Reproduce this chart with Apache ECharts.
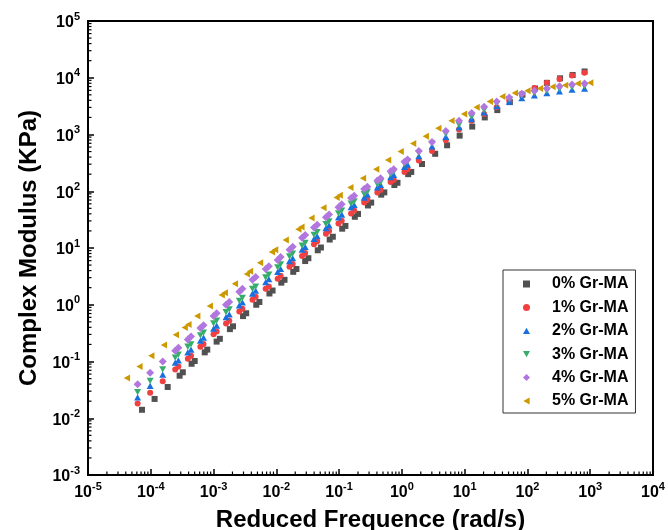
<!DOCTYPE html>
<html>
<head>
<meta charset="utf-8">
<script src="https://cdn.jsdelivr.net/npm/echarts@6/dist/echarts.min.js"></script>
<style>
  html, body { margin: 0; padding: 0; background: #ffffff; }
  #chart { width: 668px; height: 530px; }
</style>
</head>
<body>
<div id="chart"></div>
<script>
// Complex modulus master curves (KPa) vs reduced frequency (rad/s)
const seriesNames = ['0% Gr-MA', '1% Gr-MA', '2% Gr-MA', '3% Gr-MA', '4% Gr-MA', '5% Gr-MA'];

// 0% Gr-MA
const freq0 = [7.24e-5, 1.15e-4, 1.86e-4, 2.88e-4, 3.24e-4, 4.47e-4, 5.01e-4, 7.24e-4, 7.94e-4,
  1.12e-3, 1.26e-3, 1.82e-3, 2.04e-3, 2.95e-3, 3.31e-3, 4.79e-3, 5.37e-3, 7.76e-3, 8.71e-3,
  0.012, 0.0135, 0.0186, 0.0209, 0.0288, 0.0324, 0.0457, 0.0513, 0.0708, 0.0794,
  0.112, 0.126, 0.178, 0.2, 0.288, 0.324, 0.468, 0.525, 0.759, 0.851,
  1.26, 1.41, 2.09, 3.39, 5.25, 8.32, 13.2, 20.9, 33.1, 52.5, 83.2, 132, 204, 331, 525, 813];
const mod0 = [0.0141, 0.0219, 0.0355, 0.0562, 0.0646, 0.0912, 0.102, 0.145, 0.162,
  0.224, 0.251, 0.372, 0.417, 0.631, 0.708, 1.0, 1.12, 1.58, 1.78,
  2.45, 2.75, 3.8, 4.27, 5.89, 6.61, 9.12, 10.2, 14.1, 15.8,
  21.9, 24.5, 35.5, 39.8, 56.2, 63.1, 87.1, 95.5, 129, 141,
  200, 219, 302, 457, 646, 955, 1380, 2000, 2690, 3720, 5010, 6460, 8130, 9770, 11200, 12900];

// 1% to 4% Gr-MA share the same reduced-frequency points
const freqMid = [6.17e-5, 9.77e-5, 1.55e-4, 2.45e-4, 2.75e-4, 3.89e-4, 4.37e-4, 6.17e-4, 6.92e-4,
  1.0e-3, 1.12e-3, 1.58e-3, 1.78e-3, 2.57e-3, 2.88e-3, 4.17e-3, 4.68e-3, 6.76e-3, 7.59e-3,
  0.0105, 0.0117, 0.0162, 0.0182, 0.0257, 0.0288, 0.0398, 0.0447, 0.0617, 0.0692,
  0.0977, 0.11, 0.155, 0.174, 0.251, 0.282, 0.407, 0.457, 0.661, 0.741,
  1.1, 1.23, 1.86, 3.02, 5.01, 8.13, 12.9, 20.4, 32.4, 51.3, 81.3, 129, 204, 324, 513, 813];
const mod1 = [0.0182, 0.0282, 0.0447, 0.0724, 0.0813, 0.112, 0.126, 0.182, 0.204,
  0.302, 0.339, 0.468, 0.525, 0.759, 0.851, 1.23, 1.38, 1.91, 2.09,
  2.88, 3.24, 4.68, 5.25, 7.24, 8.13, 11.7, 13.2, 17.8, 20.0,
  26.9, 30.2, 40.7, 45.7, 63.1, 70.8, 95.5, 105, 145, 158,
  219, 245, 347, 513, 794, 1230, 1740, 2290, 3020, 3980, 5250, 6610, 8130, 9550, 11000, 12300];
const mod2 = [0.0234, 0.0372, 0.0589, 0.0955, 0.105, 0.145, 0.162, 0.234, 0.263,
  0.38, 0.427, 0.603, 0.676, 0.977, 1.1, 1.58, 1.78, 2.51, 2.82,
  3.8, 4.27, 5.89, 6.61, 9.33, 10.5, 14.5, 16.2, 22.4, 25.1,
  34.7, 38.9, 52.5, 57.5, 77.6, 87.1, 117, 129, 178, 195,
  269, 295, 417, 617, 912, 1350, 1860, 2450, 3160, 3800, 4370, 4900, 5370, 5750, 6170, 6460];
const mod3 = [0.0288, 0.0457, 0.0724, 0.117, 0.132, 0.182, 0.2, 0.288, 0.324,
  0.468, 0.525, 0.741, 0.832, 1.17, 1.32, 1.91, 2.09, 3.02, 3.39,
  4.57, 5.13, 7.08, 7.94, 11.0, 12.3, 17.0, 19.1, 26.3, 29.5,
  40.7, 45.7, 60.3, 66.1, 89.1, 97.7, 132, 145, 200, 219,
  302, 331, 468, 692, 1020, 1480, 2040, 2690, 3470, 4170, 4900, 5370, 5890, 6310, 6760, 7080];
const mod4 = [0.0398, 0.0631, 0.1, 0.155, 0.174, 0.245, 0.275, 0.389, 0.437,
  0.631, 0.708, 1.0, 1.12, 1.7, 1.91, 2.75, 3.09, 4.27, 4.79,
  6.17, 6.92, 9.33, 10.5, 15.1, 17.0, 22.9, 25.7, 34.7, 38.9,
  52.5, 58.9, 75.9, 83.2, 110, 120, 155, 170, 224, 245,
  331, 363, 513, 741, 1150, 1740, 2400, 3090, 3800, 4470, 5250, 5890, 6460, 7080, 7590, 7940];

// 5% Gr-MA
const freq5 = [4.17e-5, 6.61e-5, 1.02e-4, 1.62e-4, 2.51e-4, 3.47e-4, 3.98e-4, 5.5e-4, 8.71e-4,
  1.35e-3, 1.51e-3, 2.19e-3, 3.39e-3, 3.8e-3, 5.5e-3, 8.51e-3, 9.55e-3,
  0.0141, 0.0224, 0.0251, 0.0363, 0.0562, 0.0912, 0.102, 0.151, 0.24, 0.389, 0.603, 0.955,
  1.51, 2.4, 3.8, 6.17, 9.77, 15.5, 25.1, 39.8, 63.1, 100, 158, 251, 398, 631, 1000];
const mod5 = [0.0513, 0.0813, 0.126, 0.195, 0.295, 0.398, 0.447, 0.631, 0.955,
  1.48, 1.62, 2.34, 3.47, 3.89, 5.5, 8.51, 9.33,
  13.8, 21.4, 23.4, 33.9, 51.3, 77.6, 85.1, 117, 170, 245, 355, 501,
  692, 933, 1290, 1740, 2290, 3020, 3800, 4680, 5370, 5890, 6460, 6920, 7410, 7940, 8130];

const seriesFreq = [freq0, freqMid, freqMid, freqMid, freqMid, freq5];
const seriesMod = [mod0, mod1, mod2, mod3, mod4, mod5];
const seriesColors = ['#515151', '#F14040', '#1A6FDF', '#37AD6B', '#B177DE', '#CC9900'];

// marker shapes: square, circle, up / down / left triangles, diamond
const TRI_UP = 'path://M5,0 L10,9 L0,9 Z';
const TRI_DOWN = 'path://M0,0 L10,0 L5,9 Z';
const TRI_LEFT = 'path://M9,0 L9,10 L0,5 Z';
const seriesSymbols = ['rect', 'circle', TRI_UP, TRI_DOWN, 'diamond', TRI_LEFT];
const seriesSymbolSize = [6, 6, 7, 7, 8, 7];

const FONT = '"Liberation Sans", Arial, Helvetica, sans-serif';

const powerLabel = function (value) {
  const e = Math.round(Math.log10(value));
  return '{b|10}{e|' + e + '}';
};
const powerRich = {
  b: { fontSize: 16, fontWeight: 'bold', fontFamily: FONT, color: '#000', lineHeight: 20, verticalAlign: 'bottom' },
  e: { fontSize: 11, fontWeight: 'bold', fontFamily: FONT, color: '#000', lineHeight: 8, verticalAlign: 'top' }
};

// log-spaced minor ticks (2..9 within every decade), drawn inward from both axes
function renderMinorTicks(params, api) {
  const children = [];
  const origin = api.coord([1e-5, 1e-3]);
  const len = 3.5;
  const style = { stroke: '#000', lineWidth: 1.2 };
  for (let n = -5; n < 4; n++) {
    for (let k = 2; k <= 9; k++) {
      const px = api.coord([k * Math.pow(10, n), 1e-3])[0];
      children.push({ type: 'line', shape: { x1: px, y1: origin[1], x2: px, y2: origin[1] - len }, style: style });
    }
  }
  for (let n = -3; n < 5; n++) {
    for (let k = 2; k <= 9; k++) {
      const py = api.coord([1e-5, k * Math.pow(10, n)])[1];
      children.push({ type: 'line', shape: { x1: origin[0], y1: py, x2: origin[0] + len, y2: py }, style: style });
    }
  }
  return { type: 'group', children: children };
}

const scatterSeries = seriesNames.map(function (name, i) {
  return {
    name: name,
    type: 'scatter',
    symbol: seriesSymbols[i],
    symbolSize: seriesSymbolSize[i],
    symbolKeepAspect: true,
    itemStyle: { color: seriesColors[i], opacity: 1 },
    emphasis: { disabled: true },
    data: seriesFreq[i].map(function (f, j) { return [f, seriesMod[i][j]]; }),
    z: 3 + i
  };
});

const legendItems = seriesNames.map(function (name, i) {
  return { name: name, icon: seriesSymbols[i] };
});

const chart = echarts.init(document.getElementById('chart'), null, { renderer: 'canvas' });
chart.setOption({
  backgroundColor: '#ffffff',
  animation: false,
  grid: {
    left: 88, top: 21, right: 15, bottom: 55,
    show: true, borderColor: '#000', borderWidth: 2,
    containLabel: false, outerBoundsMode: 'none'
  },
  legend: {
    orient: 'vertical',
    left: 503,
    top: 270,
    padding: [6, 7, 4, 20],
    itemWidth: 7,
    itemHeight: 7,
    itemGap: 7.4,
    borderColor: '#333',
    borderWidth: 1,
    selectedMode: false,
    data: legendItems,
    textStyle: { fontSize: 16, fontWeight: 'bold', fontFamily: FONT, color: '#000', padding: [0, 0, 0, 17] }
  },
  xAxis: {
    type: 'log',
    logBase: 10,
    min: 1e-5,
    max: 1e4,
    interval: 1,
    name: 'Reduced Frequence (rad/s)',
    nameLocation: 'middle',
    nameGap: 33,
    nameTextStyle: { fontSize: 24, fontWeight: 'bold', fontFamily: FONT, color: '#000' },
    axisLine: { show: true, lineStyle: { color: '#000', width: 2 } },
    axisTick: { show: true, inside: true, length: 6, lineStyle: { color: '#000', width: 1.5 } },
    axisLabel: { margin: 6, formatter: powerLabel, rich: powerRich },
    splitLine: { show: false },
    minorTick: { show: false }
  },
  yAxis: {
    type: 'log',
    logBase: 10,
    min: 1e-3,
    max: 1e5,
    interval: 1,
    name: 'Complex Modulus (KPa)',
    nameLocation: 'middle',
    nameRotate: 90,
    nameGap: 47,
    nameTextStyle: { fontSize: 24, fontWeight: 'bold', fontFamily: FONT, color: '#000' },
    axisLine: { show: true, lineStyle: { color: '#000', width: 2 } },
    axisTick: { show: true, inside: true, length: 6, lineStyle: { color: '#000', width: 1.5 } },
    axisLabel: { margin: 8, formatter: powerLabel, rich: powerRich },
    splitLine: { show: false },
    minorTick: { show: false }
  },
  series: scatterSeries.concat([{
    type: 'custom',
    name: 'minorTicks',
    silent: true,
    clip: false,
    renderItem: renderMinorTicks,
    data: [[1, 1]],
    z: 10
  }])
});
</script>
</body>
</html>
